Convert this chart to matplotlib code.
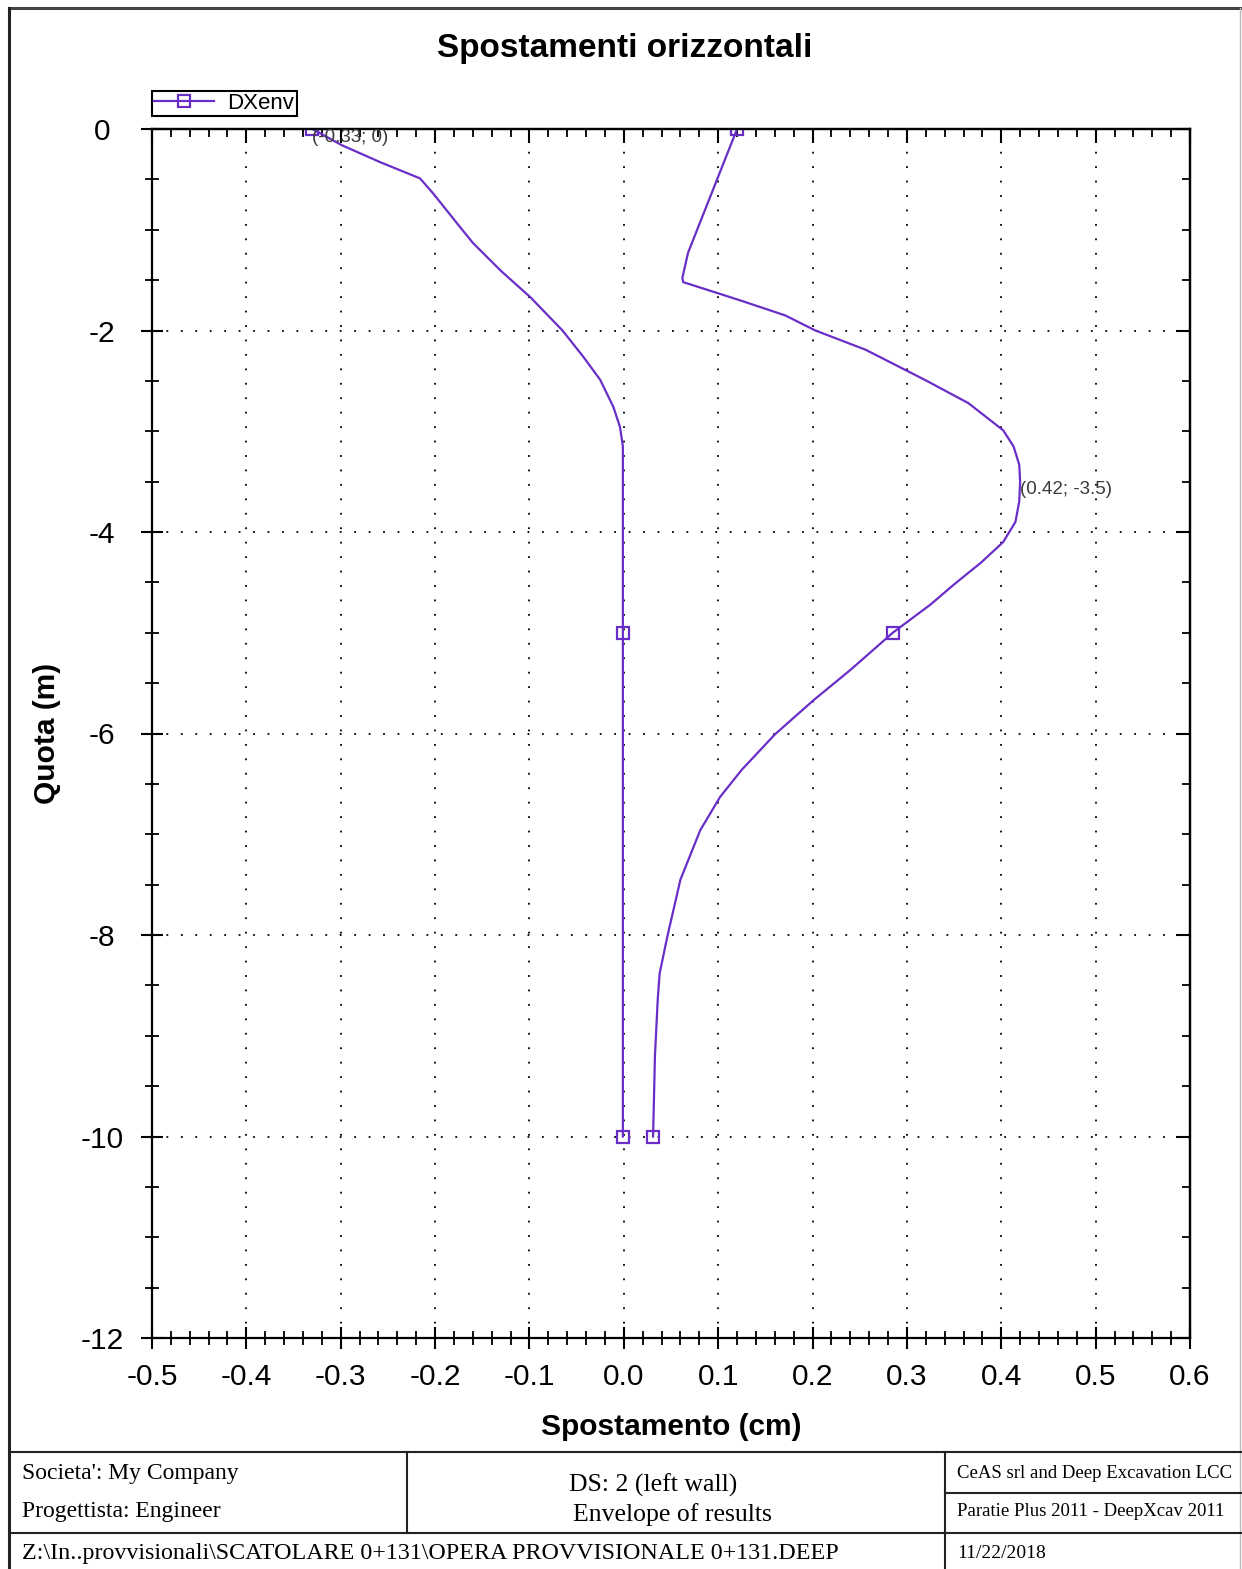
import matplotlib.pyplot as plt
from matplotlib.lines import Line2D
from matplotlib.ticker import MultipleLocator

# Spostamenti orizzontali - inviluppo (DXenv)
# curva lato sinistro (valori negativi)
x_sx = [-0.33, -0.299, -0.258, -0.216, -0.202, -0.173, -0.160, -0.13, -0.099, -0.065,
        -0.043, -0.025, -0.011, -0.004, -0.001, -0.001, -0.001, -0.001]
y_sx = [0.0, -0.16, -0.33, -0.49, -0.64, -0.98, -1.13, -1.41, -1.67, -2.0,
        -2.26, -2.49, -2.76, -2.96, -3.15, -4.0, -5.0, -10.0]

# curva lato destro (valori positivi)
x_dx = [0.12, 0.068, 0.062, 0.063, 0.123, 0.171, 0.203, 0.256, 0.319, 0.365, 0.402,
        0.413, 0.419, 0.42, 0.419, 0.415, 0.402, 0.379, 0.35, 0.325, 0.285, 0.24,
        0.201, 0.160, 0.125, 0.102, 0.081, 0.060, 0.046, 0.038, 0.036, 0.033, 0.031]
y_dx = [0.0, -1.23, -1.48, -1.52, -1.70, -1.85, -2.0, -2.19, -2.49, -2.72, -2.99,
        -3.15, -3.33, -3.5, -3.7, -3.9, -4.1, -4.3, -4.52, -4.72, -5.0, -5.37,
        -5.67, -6.01, -6.36, -6.63, -6.96, -7.45, -8.02, -8.38, -8.63, -9.2, -10.0]

# quote dei marcatori
quote_marker = [0.0, -5.0, -10.0]

# etichette dei punti estremi
etichette = [(-0.33, 0.0, '(-0.33; 0)'), (0.42, -3.5, '(0.42; -3.5)')]

colore = '#6a2ec8'

plt.rcParams['font.family'] = ['Liberation Sans', 'DejaVu Sans']
plt.rcParams['axes.unicode_minus'] = False

fig = plt.figure(figsize=(12.42, 15.69), dpi=100)
W, H = 1242, 1569

ax = fig.add_axes([152 / W, 1 - 1338 / H, (1190 - 152) / W, (1338 - 129) / H])


def idx_marker(yy):
    return [yy.index(q) for q in quote_marker]


ax.plot(x_sx, y_sx, color=colore, lw=1.6, marker='s', ms=9, mfc='none', mew=1.6,
        markevery=idx_marker(y_sx), label='DXenv')
ax.plot(x_dx, y_dx, color=colore, lw=1.6, marker='s', ms=9, mfc='none', mew=1.6,
        markevery=idx_marker(y_dx))

for xe, ye, testo in etichette:
    ax.annotate(testo, (xe, ye), xytext=(0, -6), textcoords='offset points',
                ha='left', va='center', fontsize=13.5, color='#3a3a3a',
                annotation_clip=False)

ax.set_xlim(-0.5, 0.6)
ax.set_ylim(-12, 0)
ax.xaxis.set_major_locator(MultipleLocator(0.1))
ax.xaxis.set_minor_locator(MultipleLocator(0.02))
ax.yaxis.set_major_locator(MultipleLocator(2))
ax.yaxis.set_minor_locator(MultipleLocator(0.5))
ax.set_xticks([round(-0.5 + 0.1 * i, 1) for i in range(12)])
ax.set_xticklabels(['%.1f' % (-0.5 + 0.1 * i) if abs(-0.5 + 0.1 * i) > 1e-9 else '0.0'
                    for i in range(12)])

ax.grid(True, which='major', color='black', linestyle=(0, (1, 7)), linewidth=1.3)

for s in ax.spines.values():
    s.set_linewidth(1.6)

ax.tick_params(which='major', direction='inout', length=16, width=1.5,
               labelsize=21.5)
ax.tick_params(which='minor', direction='inout', length=10, width=1.3)
ax.tick_params(axis='x', which='major', pad=10)
ax.tick_params(axis='y', which='major', pad=28)
for t in ax.get_yticklabels():
    t.set_horizontalalignment('center')

# tacche interne su lato superiore e destro
top = ax.secondary_xaxis('top')
top.xaxis.set_major_locator(MultipleLocator(0.1))
top.xaxis.set_minor_locator(MultipleLocator(0.02))
top.tick_params(which='major', direction='in', length=10, width=1.5, labeltop=False)
top.tick_params(which='minor', direction='in', length=6, width=1.3)
top.spines['top'].set_linewidth(1.6)
right = ax.secondary_yaxis('right')
right.yaxis.set_major_locator(MultipleLocator(2))
right.yaxis.set_minor_locator(MultipleLocator(0.5))
right.tick_params(which='major', direction='in', length=10, width=1.5, labelright=False)
right.tick_params(which='minor', direction='in', length=6, width=1.3)
right.spines['right'].set_linewidth(1.6)

ax.set_xlabel('Spostamento (cm)', fontsize=21.5, fontweight='bold', labelpad=16)
ax.set_ylabel('Quota (m)', fontsize=21.5, fontweight='bold', labelpad=14)
fig.text(625 / W, 1 - 48 / H, 'Spostamenti orizzontali', ha='center', va='center',
         fontsize=24, fontweight='bold')

leg = fig.legend(loc='lower left', bbox_to_anchor=(152 / W, 1 - 116 / H),
                 fontsize=16, fancybox=False, framealpha=1, edgecolor='black',
                 borderpad=0.1, handlelength=2.7, handletextpad=0.6,
                 borderaxespad=0)
leg.get_frame().set_linewidth(1.5)


# cornice e cartiglio
def linea(x0, y0, x1, y1, lw=1.5, col='#222222'):
    fig.add_artist(Line2D([x0 / W, x1 / W], [1 - y0 / H, 1 - y1 / H],
                          color=col, lw=lw, transform=fig.transFigure))


linea(9, 8, 1242, 8, lw=2.2, col='#444444')
linea(9, 8, 9, 1569, lw=2.2)
linea(1240, 8, 1240, 1569, lw=1.0, col='#bbbbbb')
linea(9, 1452, 1242, 1452)
linea(9, 1533, 1242, 1533)
linea(407, 1452, 407, 1533)
linea(945, 1452, 945, 1569)
linea(945, 1493, 1242, 1493)

serif = ['Liberation Serif', 'DejaVu Serif']
fig.text(22 / W, 1 - 1473 / H, "Societa': My Company", family=serif, fontsize=17, va='center')
fig.text(22 / W, 1 - 1512 / H, 'Progettista: Engineer', family=serif, fontsize=17, va='center')
fig.text(653 / W, 1 - 1485 / H, 'DS: 2 (left wall)', family=serif, fontsize=18.5,
         va='center', ha='center')
fig.text(672 / W, 1 - 1515 / H, 'Envelope of results', family=serif, fontsize=18.5,
         va='center', ha='center')
fig.text(22 / W, 1 - 1553 / H,
         'Z:\\In..provvisionali\\SCATOLARE 0+131\\OPERA PROVVISIONALE 0+131.DEEP',
         family=serif, fontsize=17.3, va='center')
fig.text(957 / W, 1 - 1473 / H, 'CeAS srl and Deep Excavation LCC', family=serif,
         fontsize=13.5, va='center')
fig.text(957 / W, 1 - 1512 / H, 'Paratie Plus 2011 - DeepXcav 2011', family=serif,
         fontsize=13.5, va='center')
fig.text(957 / W, 1 - 1553 / H, '11/22/2018', family=serif, fontsize=14, va='center')

fig.savefig('out.png', dpi=100)
